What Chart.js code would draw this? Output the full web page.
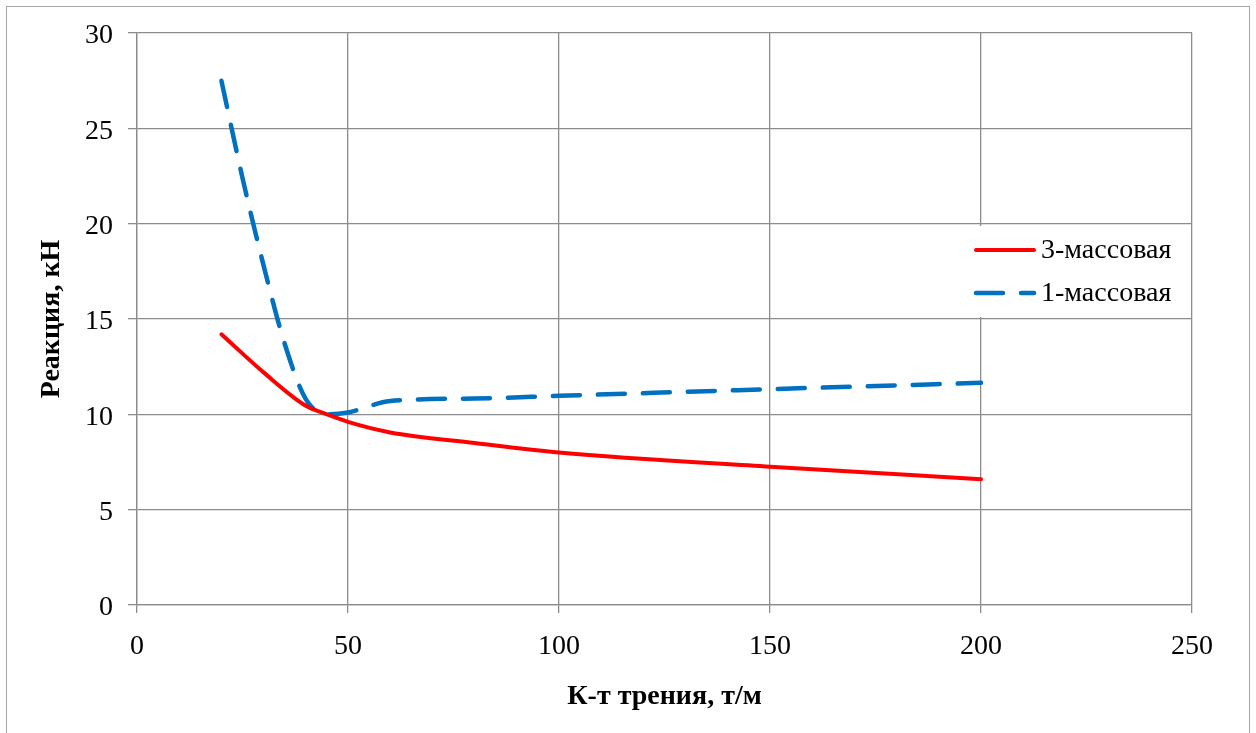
<!DOCTYPE html>
<html lang="ru">
<head>
<meta charset="utf-8">
<title>Реакция от к-та трения</title>
<script src="https://cdn.jsdelivr.net/npm/chart.js@4/dist/chart.umd.min.js"></script>
<style>
  html, body { margin: 0; padding: 0; background: #fff; }
  #wrap { width: 1256px; height: 733px; position: relative; }
</style>
</head>
<body>
<div id="wrap"><canvas id="chartReakciya"></canvas></div>
<script>
const X_TREHMASS = [20, 30, 40, 45, 50, 60, 80, 100, 150, 200];
const Y_TREHMASS = [14.2, 12.2, 10.45, 10.0, 9.6, 9.05, 8.5, 8.0, 7.25, 6.6];

const X_ODNOMASS = [20, 25, 30, 35, 40, 45, 50, 60, 80, 100, 150, 200];
const Y_ODNOMASS = [27.5, 22.4, 17.8, 13.7, 10.8, 10.0, 10.1, 10.7, 10.83, 10.97, 11.32, 11.65];

const SERIES_LABELS = ['3-массовая', '1-массовая'];
const X_TITLE = 'К-т трения, т/м';
const Y_TITLE = 'Реакция, кН';

const FONT = "'Liberation Serif', 'Times New Roman', serif";
const GRID_COLOR = '#8c8c8c';
const RED = '#ff0000';
const BLUE = '#0070c0';
const DASH = [27, 18];

const toPoints = (xs, ys) => xs.map((x, i) => ({ x, y: ys[i] }));

// white background + thin outer frame
const frame = {
  id: 'frame',
  beforeDraw(chart) {
    const { ctx } = chart;
    ctx.save();
    ctx.fillStyle = '#fff';
    ctx.fillRect(0, 0, chart.width, chart.height);
    ctx.strokeStyle = '#a6a6a6';
    ctx.lineWidth = 1;
    ctx.strokeRect(6.5, 6.5, 1243, 740);
    ctx.restore();
  },
};

// legend box sitting inside the plot, over the grid
const boxLegend = {
  id: 'boxLegend',
  afterDatasetsDraw(chart) {
    const { ctx } = chart;
    ctx.save();
    ctx.fillStyle = '#fff';
    ctx.fillRect(962, 226, 229, 91);
    chart.data.datasets.forEach((ds, i) => {
      const y = 250 + i * 43;
      ctx.beginPath();
      ctx.strokeStyle = ds.borderColor;
      ctx.lineWidth = ds.borderWidth;
      ctx.lineCap = 'round';
      ctx.setLineDash(ds.borderDash || []);
      ctx.moveTo(976, y);
      ctx.lineTo(1034, y);
      ctx.stroke();
      ctx.setLineDash([]);
      ctx.fillStyle = '#000';
      ctx.font = `28px ${FONT}`;
      ctx.textBaseline = 'middle';
      ctx.textAlign = 'left';
      ctx.fillText(ds.label, 1041, y + 1);
    });
    ctx.restore();
  },
};

const ctx = document.getElementById('chartReakciya').getContext('2d');

new Chart(ctx, {
  type: 'line',
  data: {
    datasets: [
      {
        label: SERIES_LABELS[0],
        data: toPoints(X_TREHMASS, Y_TREHMASS),
        borderColor: RED,
        borderWidth: 4,
        pointRadius: 0,
        cubicInterpolationMode: 'monotone',
        borderCapStyle: 'round',
        fill: false,
      },
      {
        label: SERIES_LABELS[1],
        data: toPoints(X_ODNOMASS, Y_ODNOMASS),
        borderColor: BLUE,
        borderWidth: 4.5,
        borderDash: DASH,
        pointRadius: 0,
        cubicInterpolationMode: 'monotone',
        borderCapStyle: 'round',
        fill: false,
      },
    ],
  },
  options: {
    responsive: true,
    maintainAspectRatio: false,
    animation: false,
    layout: {
      padding: { left: 0, top: 33, right: 64, bottom: 0 },
    },
    plugins: {
      legend: { display: false },
      tooltip: { enabled: false },
    },
    scales: {
      x: {
        type: 'linear',
        min: 0,
        max: 250,
        ticks: {
          stepSize: 50,
          color: '#000',
          padding: 17,
          maxRotation: 0,
          font: { family: FONT, size: 28 },
        },
        grid: { color: GRID_COLOR, lineWidth: 1.3, tickLength: 8 },
        border: { display: true, color: GRID_COLOR, width: 1.3 },
        title: {
          display: true,
          text: X_TITLE,
          color: '#000',
          font: { family: FONT, size: 28, weight: 'bold' },
          padding: { top: 0, bottom: 19 },
        },
        afterFit(scale) {
          scale.height = 128;
        },
      },
      y: {
        min: 0,
        max: 30,
        ticks: {
          stepSize: 5,
          color: '#000',
          padding: 15,
          labelOffset: 3,
          font: { family: FONT, size: 28 },
        },
        grid: { color: GRID_COLOR, lineWidth: 1.3, tickLength: 9 },
        border: { display: true, color: GRID_COLOR, width: 1.3 },
        title: {
          display: true,
          text: Y_TITLE,
          color: '#000',
          font: { family: FONT, size: 28, weight: 'bold' },
          padding: { top: 35, bottom: 0 },
        },
        afterFit(scale) {
          scale.width = 137;
        },
      },
    },
  },
  plugins: [frame, boxLegend],
});
</script>
</body>
</html>
